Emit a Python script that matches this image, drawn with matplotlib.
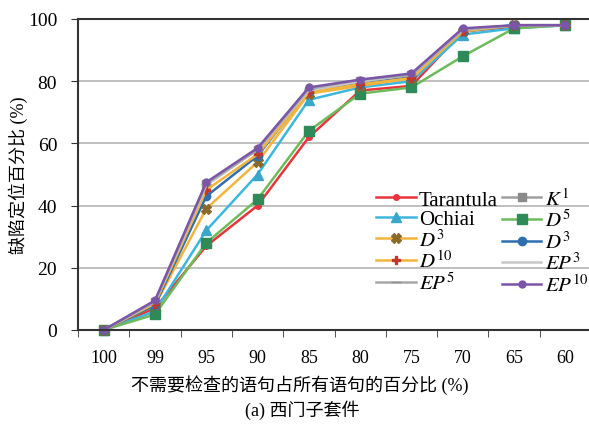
import matplotlib
matplotlib.use('Agg')
import matplotlib.pyplot as plt

plt.rcParams['font.family'] = ['Liberation Serif', 'Noto Sans CJK SC']
plt.rcParams['mathtext.fontset'] = 'stix'

categories = ['100', '99', '95', '90', '85', '80', '75', '70', '65', '60']
tarantula = [0, 7, 27, 40, 62, 77, 78.5, 96, 97.5, 98]
ochiai = [0, 6, 32, 50, 74, 78, 80, 95, 97, 98]
d5 = [0, 5, 28, 42, 64, 76, 78, 88, 97, 98]
k1 = [0, 9, 47, 58, 77, 80, 82, 96, 98, 98]
d3_y = [0, 8, 39, 54, 76, 78.5, 81, 96, 98, 98]
d3_b = [0, 8, 43, 56, 77, 79, 81.5, 96, 98, 98]
d10 = [0, 8.5, 45, 56.5, 76.5, 79, 81, 96, 98, 98]
ep3 = [0, 9, 46.5, 58, 77, 80, 82, 96.5, 98, 98]
ep5 = [0, 9, 47, 58, 77.5, 80.5, 82, 96.5, 98, 98]
ep10 = [0, 9.5, 47.5, 58.5, 78, 80.5, 82.5, 97, 98, 98]

series = [
    ('Tarantula', tarantula, '#e8343c', 'o', '#e8343c', 4),
    (r'$\mathit{K}^1$', k1, '#a0a0a0', 's', '#8a8a8a', 6),
    ('Ochiai', ochiai, '#3bb7e0', '^', '#3aa6cc', 7),
    (r'$\mathit{D}^5$', d5, '#6dbb5a', 's', '#2f8a5a', 7),
    (r'$\mathit{D}^3$', d3_y, '#f3b43c', 'X', '#8a6a2a', 7),
    (r'$\mathit{D}^3$', d3_b, '#2e6fb0', 'o', '#2e6fb0', 6),
    (r'$\mathit{D}^{10}$', d10, '#f3b43c', 'P', '#c0392b', 6),
    (r'$\mathit{EP}^3$', ep3, '#c8c8c8', None, None, 0),
    (r'$\mathit{EP}^5$', ep5, '#a8a8a8', '_', '#909090', 7),
    (r'$\mathit{EP}^{10}$', ep10, '#7a55a8', 'o', '#7a55a8', 5),
]

fig = plt.figure(figsize=(5.89, 4.35), dpi=100)
ax = fig.add_axes([78 / 589, 1 - 331 / 435, 513 / 589, 311 / 435])

x = list(range(len(categories)))
for (label, vals, color, marker, mcolor, ms) in series:
    ax.plot(x, vals, color=color, lw=1.8, marker=marker, ms=ms,
            mfc=mcolor, mec=mcolor, label=label, clip_on=False)

ax.set_xlim(-0.5, 9.5)
ax.set_ylim(0, 100)
ax.set_xticks(x)
ax.set_xticklabels(categories, fontsize=13)
ax.set_xticks([i + 0.5 for i in range(-1, 10)], minor=True)
ax.tick_params(axis='x', which='major', length=0, pad=14)
ax.tick_params(axis='x', which='minor', length=5, direction='out', color='#333333')
ax.set_yticks([0, 20, 40, 60, 80, 100])
ax.tick_params(axis='y', labelsize=14, length=5, color='#333333', pad=10)
ax.grid(True, axis='y', color='#b4b4b4', lw=1.2)
ax.set_axisbelow(True)
ax.spines['right'].set_visible(False)
for s in ['left', 'bottom', 'top']:
    ax.spines[s].set_color('#333333')
    ax.spines[s].set_linewidth(1.5)

fig.text(300 / 589, 1 - 385 / 435, '不需要检查的语句占所有语句的百分比 (%)',
         fontsize=13, ha='center', va='center')
fig.text(302 / 589, 1 - 410 / 435, '(a) 西门子套件', fontsize=13,
         ha='center', va='center')
fig.text(18 / 589, 1 - 175 / 435, '缺陷定位百分比 (%)', fontsize=13,
         ha='center', va='center', rotation=90)

lines = ax.get_lines()
order = [0, 2, 4, 6, 8, 1, 3, 5, 7, 9]
leg = ax.legend([lines[i] for i in order], [lines[i].get_label() for i in order],
                ncol=2, loc='upper left', bbox_to_anchor=(376 / 589, 1 - 189 / 435),
                bbox_transform=fig.transFigure, frameon=False, fontsize=15,
                handlelength=1.9, handletextpad=0.15, columnspacing=0.2,
                labelspacing=0.0, borderaxespad=0, borderpad=0)

fig.savefig('out.png', dpi=100)
